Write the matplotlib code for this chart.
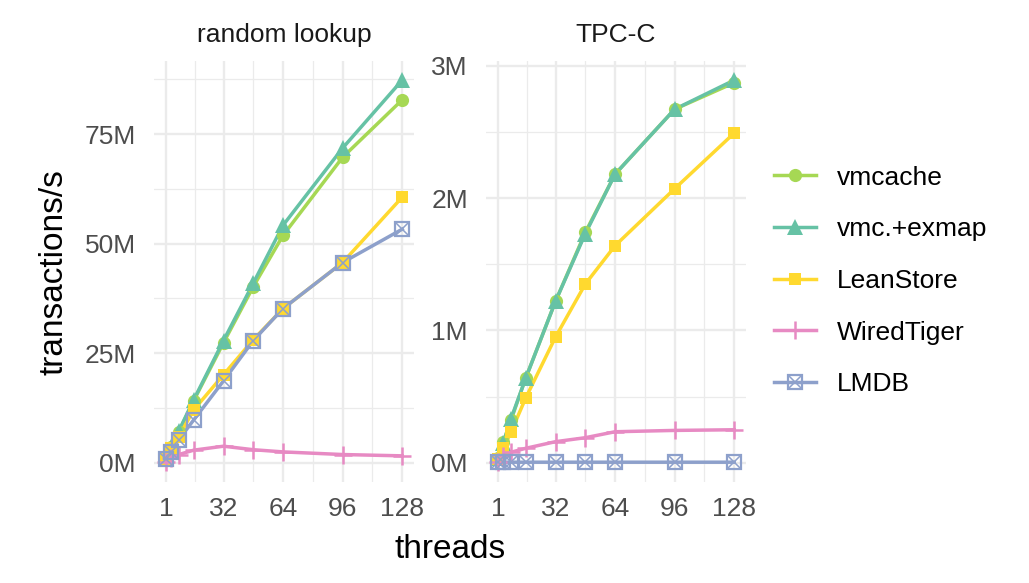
import matplotlib
matplotlib.use("Agg")
import matplotlib.pyplot as plt
from matplotlib.lines import Line2D
from matplotlib.legend_handler import HandlerTuple
import numpy as np

plt.rcParams['font.family'] = ['Liberation Sans', 'DejaVu Sans']

threads = [1, 4, 8, 16, 32, 48, 64, 96, 128]
systems = ["vmcache", "vmc.+exmap", "LeanStore", "WiredTiger", "LMDB"]
panels = ["random lookup", "TPC-C"]

# transactions/s in millions
lookup = {
    "vmcache":    [0.9, 3.7, 7.1, 14.2, 27.4, 40.2, 51.9, 69.7, 82.8],
    "vmc.+exmap": [0.9, 3.7, 7.3, 14.4, 27.9, 41.0, 54.2, 71.8, 87.3],
    "LeanStore":  [0.9, 3.4, 6.0, 12.1, 20.1, 28.1, 35.2, 45.7, 60.6],
    "WiredTiger": [0.3, 1.0, 1.9, 2.9, 3.8, 3.0, 2.5, 1.9, 1.6],
    "LMDB":       [0.9, 2.5, 5.3, 9.8, 18.7, 27.9, 35.2, 45.7, 53.3],
}
tpcc = {
    "vmcache":    [0.04, 0.16, 0.32, 0.64, 1.22, 1.74, 2.18, 2.67, 2.87],
    "vmc.+exmap": [0.04, 0.15, 0.33, 0.64, 1.22, 1.73, 2.18, 2.67, 2.89],
    "LeanStore":  [0.03, 0.11, 0.23, 0.49, 0.95, 1.35, 1.64, 2.07, 2.49],
    "WiredTiger": [0.01, 0.05, 0.08, 0.11, 0.16, 0.19, 0.235, 0.245, 0.25],
    "LMDB":       [0.004, 0.005, 0.005, 0.005, 0.005, 0.005, 0.005, 0.005, 0.005],
}

colors = {"vmcache": "#A6D854", "vmc.+exmap": "#66C2A5", "LeanStore": "#FFD92F",
          "WiredTiger": "#E78AC3", "LMDB": "#8DA0CB"}
marker_style = {
    "vmcache":    dict(marker="o", ms=9.5, mew=0),
    "vmc.+exmap": dict(marker="^", ms=11.5, mew=0),
    "LeanStore":  dict(marker="s", ms=9, mew=0),
    "WiredTiger": dict(marker="+", ms=13, mew=1.8),
    "LMDB":       dict(marker="s", ms=10, mew=1.6, mfc="none"),
}

W, H = 1029, 583
fig = plt.figure(figsize=(W / 100, H / 100), dpi=100)
ax_boxes = [(154, 61, 414, 482), (486, 61, 746, 482)]
axes = []
for (x0, y0, x1, y1) in ax_boxes:
    axes.append(fig.add_axes([x0 / W, 1 - y1 / H, (x1 - x0) / W, (y1 - y0) / H]))

grid = "#EBEBEB"
tick_col = "#4D4D4D"
lw = 2.5

for ax, title, data, step in zip(axes, panels, [lookup, tpcc], [25, 1]):
    for s in systems:
        ax.plot(threads, data[s], color=colors[s], lw=lw, zorder=3)
    for s in systems:
        st = marker_style[s]
        ax.plot(threads, data[s], ls="none", color=colors[s], marker=st["marker"],
                ms=st["ms"], mew=st["mew"], mfc=st.get("mfc", colors[s]),
                mec=colors[s], zorder=4)
        if s == "LMDB":
            ax.plot(threads, data[s], ls="none", color=colors[s], marker="x",
                    ms=8, mew=1.1, zorder=4)

    ymax = max(max(v) for v in data.values())
    top = ymax * 1.05
    ax.set_xlim(1 - 0.05 * 127, 128 + 0.05 * 127)
    ax.set_ylim(-0.05 * ymax, top)
    ax.set_xticks([1, 32, 64, 96, 128])
    ax.set_xticks([16.5, 48, 80, 112], minor=True)
    yt = np.arange(0, top, step)
    ax.set_yticks(yt)
    ax.set_yticklabels([f"{v:g}M" for v in yt])
    ym = np.arange(step / 2, top, step)
    ax.set_yticks(ym, minor=True)
    ax.grid(which="major", color=grid, lw=1.7, zorder=0)
    ax.grid(which="minor", color=grid, lw=0.9, zorder=0)
    ax.set_axisbelow(True)
    for sp in ax.spines.values():
        sp.set_visible(False)
    ax.tick_params(which="both", length=0, labelsize=19, labelcolor=tick_col)
    ax.tick_params(axis="y", pad=13)
    ax.tick_params(axis="x", pad=11)
    ax.set_title(title, fontsize=19, color="#1A1A1A", pad=14)

fig.text(450 / W, 1 - 558 / H, "threads", fontsize=24, ha="center", va="baseline")
fig.text(54 / W, 1 - 272 / H, "transactions/s", fontsize=24, rotation=90,
         ha="center", va="center")

handles = []
for s in systems:
    st = marker_style[s]
    h = Line2D([], [], color=colors[s], lw=lw, marker=st["marker"], ms=st["ms"],
               mew=st["mew"], mfc=st.get("mfc", colors[s]), mec=colors[s])
    if s == "LMDB":
        hx = Line2D([], [], ls="none", color=colors[s], marker="x", ms=8, mew=1.1)
        h = (h, hx)
    handles.append(h)
fig.legend(handles, systems, loc="center left", bbox_to_anchor=(774 / W, 1 - 281 / H),
           frameon=False, fontsize=19, handlelength=1.6, handletextpad=0.8,
           labelspacing=1.05, borderpad=0, borderaxespad=0,
           handler_map={tuple: HandlerTuple(ndivide=1, pad=0)})

fig.savefig("out.png", dpi=100)
